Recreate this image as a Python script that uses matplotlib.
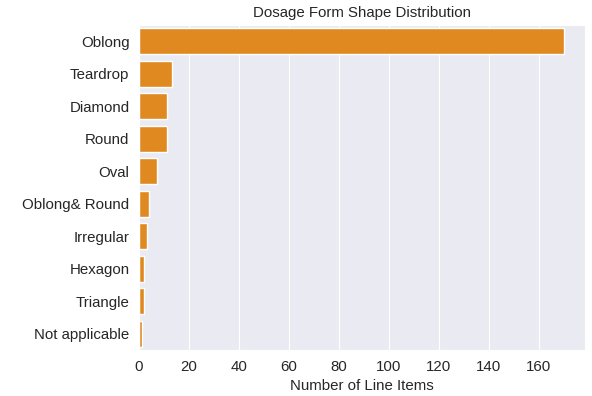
import matplotlib
matplotlib.use("Agg")
import matplotlib.pyplot as plt
import seaborn as sns

shapes = ["Oblong", "Teardrop", "Diamond", "Round", "Oval", "Oblong& Round",
          "Irregular", "Hexagon", "Triangle", "Not applicable"]
counts = [170, 13, 11, 11, 7, 4, 3, 2, 2, 1]

sns.set_style("darkgrid")
plt.rcParams["font.family"] = ["Liberation Sans", "DejaVu Sans"]

fig, ax = plt.subplots(figsize=(5.92, 3.96), dpi=100)
sns.barplot(x=counts, y=shapes, color="darkorange", ax=ax)

ax.set_title("Dosage Form Shape Distribution", fontsize=10.8)
ax.set_xlabel("Number of Line Items", fontsize=10.8)
ax.set_ylabel("")
ax.tick_params(axis="both", labelsize=10.8)

fig.subplots_adjust(left=0.235, right=0.988, top=0.937, bottom=0.116)
fig.savefig("out.png")
